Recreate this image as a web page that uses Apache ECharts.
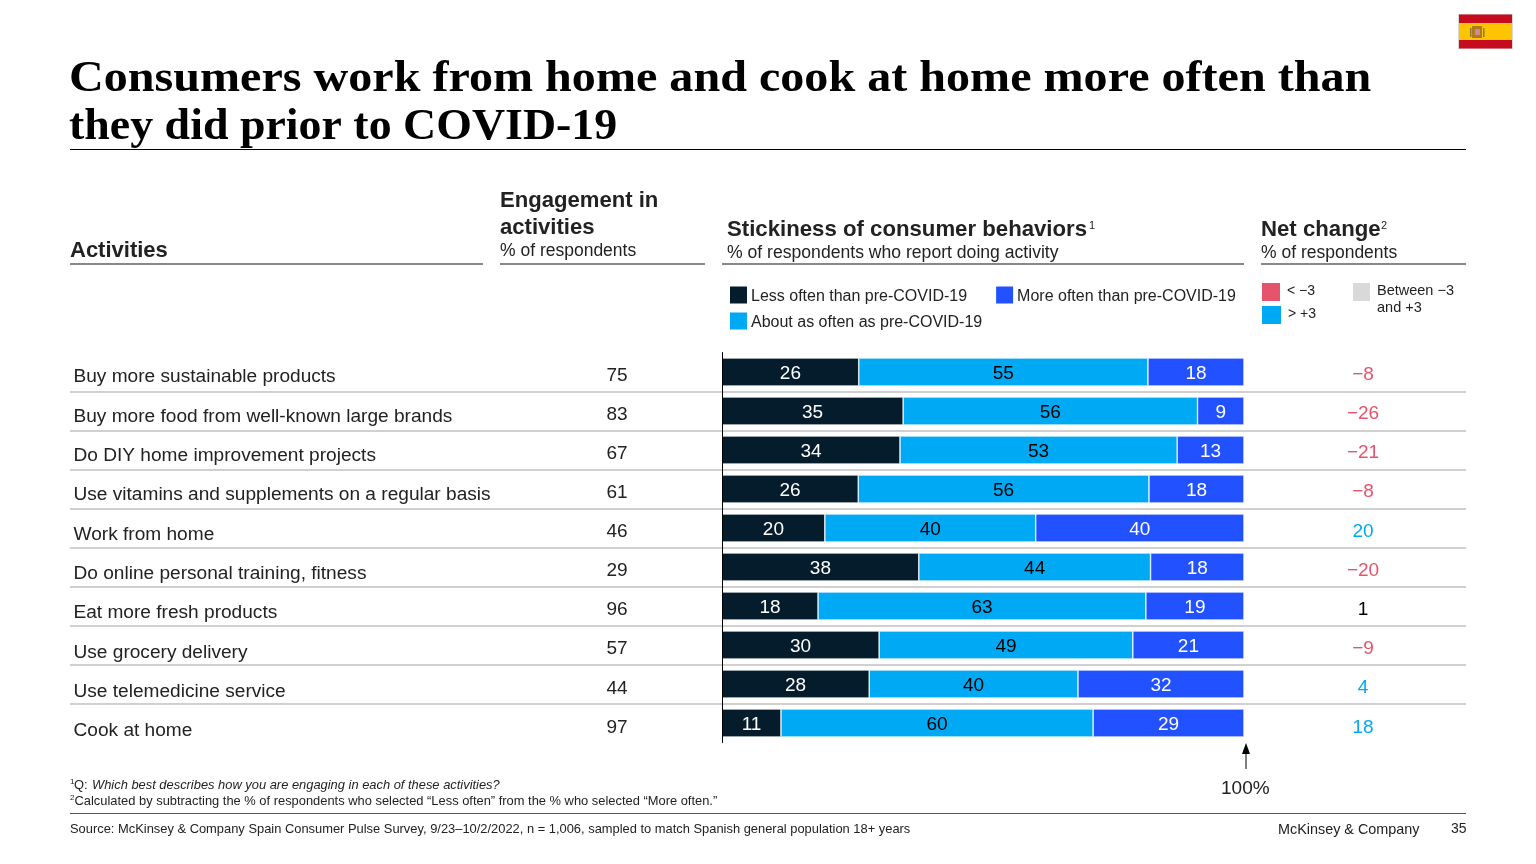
<!DOCTYPE html>
<html lang="en">
<head>
    <meta charset="UTF-8">
    <title>Consumers work from home</title>
    <style>
        html, body {margin: 0; padding: 0; background: #fff;}
        #chart_box {width: 1536px; height: 864px;}
    </style>
</head>
<body>
<div id="chart_box"></div>
<script src="https://cdn.jsdelivr.net/npm/echarts@6/dist/echarts.min.js"></script>
<script>
    var activities = ['Buy more sustainable products', 'Buy more food from well-known large brands', 'Do DIY home improvement projects',
        'Use vitamins and supplements on a regular basis', 'Work from home', 'Do online personal training, fitness',
        'Eat more fresh products', 'Use grocery delivery', 'Use telemedicine service', 'Cook at home'];
    var engagement = [75, 83, 67, 61, 46, 29, 96, 57, 44, 97];
    // shares, the printed labels are these values rounded
    var lessOften = [26.2, 34.7, 34.1, 26.1, 19.7, 37.7, 18.4, 30.1, 28.2, 11.3];
    var aboutSame = [55.4, 56.4, 53.1, 55.7, 40.4, 44.4, 62.8, 48.6, 40.0, 59.8];
    var moreOften = [18.4, 8.9, 12.8, 18.2, 39.9, 17.9, 18.8, 21.3, 31.8, 28.9];
    var netChange = [-8, -26, -21, -8, 20, -20, 1, -9, 4, 18];
    var seriesNames = ['Less often than pre-COVID-19', 'About as often as pre-COVID-19', 'More often than pre-COVID-19'];

    var dark = '#051c2c', cyan = '#00a9f4', blue = '#2251ff', pink = '#e5546c', grey = '#d0d0d0';
    var sans = '"Liberation Sans", Arial, sans-serif';

    function fmtNet(v) {
        return v < 0 ? '\u2212' + Math.abs(v) : String(v);
    }
    function netColor(v) {
        if (v < -3) return pink;
        if (v > 3) return cyan;
        return '#000';
    }
    function barSeries(name, values, color, labelColor) {
        return {
            name: name,
            type: 'bar',
            stack: 'total',
            barWidth: 28,
            xAxisIndex: 0,
            yAxisIndex: 0,
            data: values,
            itemStyle: {color: color, borderColor: '#fff', borderWidth: 0.6},
            label: {
                show: true,
                position: 'inside',
                offset: [0, 1.5],
                color: labelColor,
                fontFamily: sans,
                fontSize: 19,
                formatter: function (p) { return Math.round(p.value); }
            }
        };
    }
    function txt(x, y, text, font, color) {
        return {type: 'text', style: {x: x, y: y, text: text, font: font + ' ' + sans, fill: color || '#000', textVerticalAlign: 'middle'}, silent: true};
    }
    function titleLine(y, text, stretch) {
        return {
            type: 'text', x: 69, y: y, scaleX: stretch, silent: true,
            style: {x: 0, y: 0, text: text, font: 'bold 45px "Liberation Serif", serif', fill: '#000', textVerticalAlign: 'middle'}
        };
    }
    function rule(x1, x2, y, color, w) {
        return {type: 'line', shape: {x1: x1, y1: y, x2: x2, y2: y}, style: {stroke: color, lineWidth: w}, silent: true};
    }
    function box(x, y, w, h, color) {
        return {type: 'rect', shape: {x: x, y: y, width: w, height: h}, style: {fill: color}, silent: true};
    }

    var graphicItems = [
        // title
        titleLine(79, 'Consumers work from home and cook at home more often than', 1.069),
        titleLine(127, 'they did prior to COVID-19', 1.02),
        rule(70, 1466, 149.5, '#000', 1),
        // flag
        box(1458, 14, 55, 35, '#d8d8d8'),
        box(1459, 14.5, 53, 34, '#c60b1e'),
        box(1459, 23, 53, 17, '#ffc400'),
        box(1472, 26, 10, 12, '#ad7a1c'),
        box(1475, 29, 5, 6, '#c98a9a'),
        box(1470, 28, 1.5, 9, '#8a7a30'),
        box(1483, 28, 1.5, 9, '#8a7a30'),
        // column headers
        txt(70, 250.5, 'Activities', 'bold 22px', '#222'),
        txt(500, 201, 'Engagement in', 'bold 22.1px', '#222'),
        txt(500, 228, 'activities', 'bold 22.1px', '#222'),
        txt(500, 251, '% of respondents', '17.5px', '#222'),
        txt(727, 230, 'Stickiness of consumer behaviors', 'bold 22.2px', '#222'),
        txt(1089, 226, '1', '11px', '#222'),
        txt(727, 253, '% of respondents who report doing activity', '17.6px', '#222'),
        txt(1261, 230, 'Net change', 'bold 22.2px', '#222'),
        txt(1381, 226, '2', '11px', '#222'),
        txt(1261, 253, '% of respondents', '17.5px', '#222'),
        rule(70, 483, 264, '#888', 2),
        rule(500, 705, 264, '#888', 2),
        rule(722, 1244, 264, '#888', 2),
        rule(1261, 1466, 264, '#888', 2),
        // net change key
        box(1262, 283, 18, 18, pink),
        txt(1287, 291, '< \u22123', '14px', '#222'),
        box(1262, 306, 19, 18, cyan),
        txt(1288, 314, '> +3', '14px', '#222'),
        box(1353, 283, 17, 18, '#d9d9d9'),
        txt(1377, 291, 'Between \u22123', '14.5px', '#222'),
        txt(1377, 308, 'and +3', '14.5px', '#222'),
        // 100% marker
        {type: 'line', shape: {x1: 1246, y1: 752, x2: 1246, y2: 769}, style: {stroke: '#000', lineWidth: 1}, silent: true},
        {type: 'polygon', shape: {points: [[1246, 743], [1242, 754], [1250, 754]]}, style: {fill: '#000'}, silent: true},
        txt(1221, 789, '100%', '19px', '#222'),
        // footnotes
        txt(70, 782, '1', '8px', '#222'),
        txt(74, 785, 'Q: ', '12.9px', '#222'),
        txt(92, 785, 'Which best describes how you are engaging in each of these activities?', 'italic 12.9px', '#222'),
        txt(70, 798, '2', '8px', '#222'),
        txt(74.5, 801, 'Calculated by subtracting the % of respondents who selected \u201cLess often\u201d from the % who selected \u201cMore often.\u201d', '12.9px', '#222'),
        rule(70, 1466, 813.5, '#555', 1),
        txt(70, 829, 'Source: McKinsey & Company Spain Consumer Pulse Survey, 9/23\u201310/2/2022, n = 1,006, sampled to match Spanish general population 18+ years', '12.9px', '#222'),
        txt(1278, 830, 'McKinsey & Company', '14.4px', '#222'),
        txt(1451, 829, '35', '14px', '#222')
    ];

    var chart = echarts.init(document.getElementById('chart_box'));
    var legendBase = {
        orient: 'horizontal',
        padding: 0,
        icon: 'rect',
        itemWidth: 17,
        itemHeight: 17,
        itemGap: 29,
        selectedMode: false,
        formatter: '{t|{name}}',
        textStyle: {
            fontFamily: sans, fontSize: 16, color: '#222', padding: [0, 0, 0, -1],
            rich: {t: {fontFamily: sans, fontSize: 16, color: '#222', padding: [4, 0, 0, 0]}}
        },
        itemStyle: {borderWidth: 0}
    };
    var noAxisMarks = {axisLine: {show: false}, axisTick: {show: false}, splitLine: {show: false}};
    var option = {
        animation: false,
        textStyle: {fontFamily: sans},
        legend: [
            Object.assign({left: 730, top: 286.5, data: [seriesNames[0], seriesNames[2]]}, legendBase),
            Object.assign({left: 730, top: 312.5, data: [seriesNames[1]]}, legendBase)
        ],
        grid: [
            {left: 722, top: 352.5, width: 522, height: 390},   // bars
            {left: 70, top: 352.5, width: 1396, height: 390},   // row separators
            {left: 70, top: 357.5, width: 1396, height: 393.4}, // activity names
            {left: 722, top: 356, width: 522, height: 391},     // engagement
            {left: 722, top: 354.9, width: 522, height: 392}    // net change
        ],
        xAxis: [0, 1, 2, 3, 4].map(function (g) {
            return {gridIndex: g, type: 'value', min: 0, max: 100, show: false};
        }),
        yAxis: [
            {
                gridIndex: 0, type: 'category', inverse: true, data: activities, z: 5,
                axisLine: {show: true, lineStyle: {color: '#000', width: 1}},
                axisTick: {show: false}, axisLabel: {show: false}, splitLine: {show: false}
            },
            {
                gridIndex: 1, type: 'category', inverse: true, data: activities,
                axisLine: {show: false}, axisTick: {show: false}, axisLabel: {show: false},
                splitLine: {show: true, showMinLine: false, showMaxLine: false, interval: 0, lineStyle: {color: grey, width: 2}}
            },
            Object.assign({
                gridIndex: 2, type: 'category', inverse: true, data: activities,
                axisLabel: {inside: true, margin: 3.5, fontFamily: sans, fontSize: 19.1, color: '#222', interval: 0}
            }, noAxisMarks),
            Object.assign({
                gridIndex: 3, type: 'category', inverse: true, position: 'left', data: engagement,
                axisLabel: {margin: 105, align: 'center', fontFamily: sans, fontSize: 19, color: '#222', interval: 0}
            }, noAxisMarks),
            Object.assign({
                gridIndex: 4, type: 'category', inverse: true, position: 'right', data: netChange,
                axisLabel: {
                    margin: 119, align: 'center', fontFamily: sans, fontSize: 19, interval: 0,
                    formatter: function (v) { return fmtNet(Number(v)); },
                    color: function (v) { return netColor(Number(v)); }
                }
            }, noAxisMarks)
        ],
        series: [
            barSeries(seriesNames[0], lessOften, dark, '#fff'),
            barSeries(seriesNames[1], aboutSame, cyan, '#000'),
            barSeries(seriesNames[2], moreOften, blue, '#fff')
        ],
        graphic: graphicItems
    };
    chart.setOption(option);
</script>
</body>
</html>
